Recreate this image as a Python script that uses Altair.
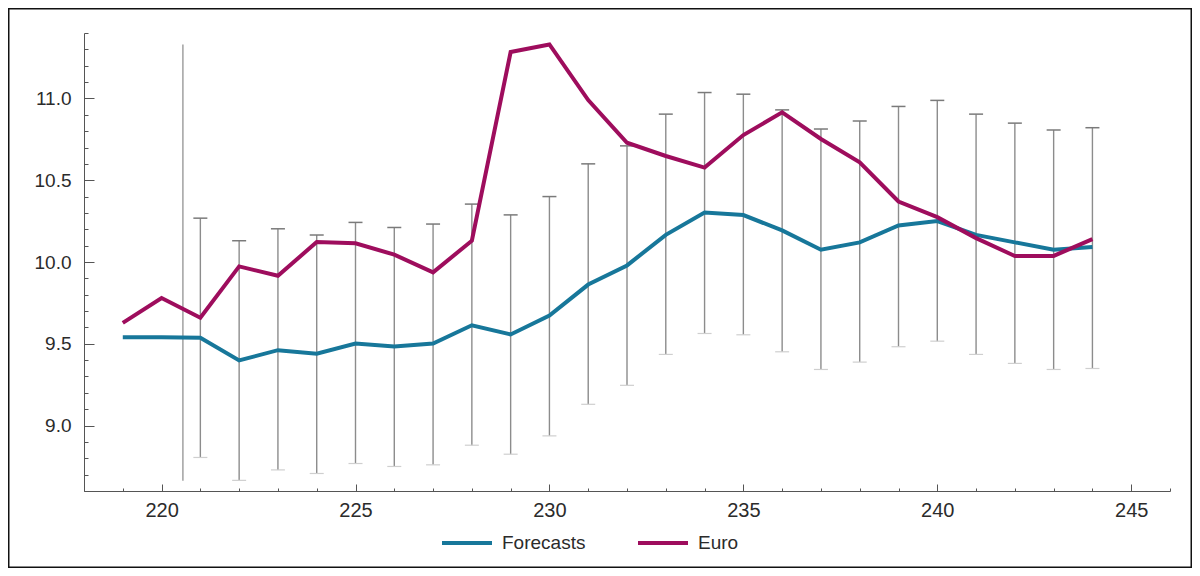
import altair as alt
import pandas as pd

# ---------------- data ----------------
periods = list(range(219, 245))
forecasts = [9.54, 9.54, 9.537, 9.398, 9.461, 9.439, 9.502, 9.484, 9.502, 9.613,
             9.557, 9.673, 9.862, 9.979, 10.166, 10.302, 10.287, 10.193, 10.075, 10.12,
             10.223, 10.25, 10.166, 10.12, 10.075, 10.091]
euro = [9.628, 9.78, 9.659, 9.973, 9.916, 10.122, 10.114, 10.045, 9.937, 10.13,
        11.284, 11.33, 10.99, 10.729, 10.648, 10.577, 10.776, 10.915, 10.752, 10.61,
        10.37, 10.274, 10.146, 10.037, 10.037, 10.14]

band_periods = list(range(221, 245))
band_high = [10.268, 10.13, 10.203, 10.165, 10.242, 10.211, 10.232, 10.354, 10.288, 10.4,
             10.6, 10.71, 10.904, 11.036, 11.026, 10.93, 10.813, 10.862, 10.951, 10.988,
             10.904, 10.849, 10.807, 10.821]
band_low = [8.805, 8.665, 8.729, 8.707, 8.768, 8.75, 8.76, 8.88, 8.825, 8.937,
            9.13, 9.246, 9.435, 9.563, 9.555, 9.451, 9.343, 9.388, 9.482, 9.516,
            9.435, 9.38, 9.343, 9.349]

outlier_period = [220.55]
outlier_high = [11.33]
outlier_low = [8.662]

series_names = ["Forecasts", "Euro"]
series_colors = ["#17779a", "#9e0d5d"]

x_labels = [220, 225, 230, 235, 240, 245]
x_minor = [218, 219, 220, 221, 222, 223, 224, 225, 226, 227, 228, 229, 230, 231, 232,
           233, 234, 235, 236, 237, 238, 239, 240, 241, 242, 243, 244, 245, 246]
y_labels = [9.0, 9.5, 10.0, 10.5, 11.0]
y_minor = [8.6, 8.7, 8.8, 8.9, 9.0, 9.1, 9.2, 9.3, 9.4, 9.5, 9.6, 9.7, 9.8, 9.9, 10.0,
           10.1, 10.2, 10.3, 10.4, 10.5, 10.6, 10.7, 10.8, 10.9, 11.0, 11.1, 11.2, 11.3, 11.4]

# ---------------- tables ----------------
line_df = pd.DataFrame({
    "period": periods * 2,
    "value": forecasts + euro,
    "series": ["Forecasts"] * len(periods) + ["Euro"] * len(periods),
})
band_df = pd.DataFrame({"period": band_periods, "high": band_high, "low": band_low})
out_df = pd.DataFrame({"period": outlier_period, "high": outlier_high, "low": outlier_low})
one_df = pd.DataFrame({"a": [0]})

W, H = 1086, 458
PAD = {"left": 76, "top": 25, "right": 22, "bottom": 77}
FONT = "Liberation Sans"
AX = "#555555"

xs = alt.Scale(domain=[218, 246], nice=False, zero=False)
ys = alt.Scale(domain=[8.6, 11.4], nice=False, zero=False)

# ---------------- axis layers (inward ticks) ----------------
main_axes = alt.Chart(line_df).mark_point(opacity=0).encode(
    x=alt.X("period:Q", scale=xs, axis=alt.Axis(
        orient="bottom", values=x_labels, format="d", ticks=False, tickSize=0, grid=False,
        title=None, domainColor=AX, domainWidth=1, labelFont=FONT, labelFontSize=20,
        labelColor="#2b2b2b", labelPadding=9)),
    y=alt.Y("value:Q", scale=ys, axis=alt.Axis(
        orient="left", values=y_labels, format=".1f", ticks=False, tickSize=0, grid=False,
        title=None, domainColor=AX, domainWidth=1, labelFont=FONT, labelFontSize=19,
        labelColor="#2b2b2b", labelPadding=13)),
)

major_ticks = alt.Chart(line_df).mark_point(opacity=0).encode(
    x=alt.X("period:Q", scale=xs, axis=alt.Axis(
        orient="bottom", offset=-7, values=x_labels, tickSize=7, tickColor=AX, tickWidth=1,
        domain=False, labels=False, grid=False, title=None)),
    y=alt.Y("value:Q", scale=ys, axis=alt.Axis(
        orient="left", offset=-10, values=y_labels, tickSize=10, tickColor=AX, tickWidth=1,
        domain=False, labels=False, grid=False, title=None)),
)

minor_ticks = alt.Chart(line_df).mark_point(opacity=0).encode(
    x=alt.X("period:Q", scale=xs, axis=alt.Axis(
        orient="bottom", offset=-3, values=x_minor, tickSize=3, tickColor=AX, tickWidth=1,
        domain=False, labels=False, grid=False, title=None)),
    y=alt.Y("value:Q", scale=ys, axis=alt.Axis(
        orient="left", offset=-4, values=y_minor, tickSize=4, tickColor=AX, tickWidth=1,
        domain=False, labels=False, grid=False, title=None)),
)

# ---------------- data layers ----------------
xe = alt.X("period:Q", scale=xs, axis=None)

outlier = alt.Chart(out_df).mark_rule(color="#9a9a9a", strokeWidth=1.4).encode(
    x=xe, y=alt.Y("high:Q", scale=ys, axis=None), y2="low:Q")

bars = alt.Chart(band_df).mark_rule(color="#8c8c8c", strokeWidth=1.4).encode(
    x=xe, y=alt.Y("high:Q", scale=ys, axis=None), y2="low:Q")

caps_top = alt.Chart(band_df).mark_tick(orient="horizontal", size=14, thickness=1.5,
                                        color="#7a7a7a", opacity=1).encode(
    x=xe, y=alt.Y("high:Q", scale=ys, axis=None))

caps_low = alt.Chart(band_df).mark_tick(orient="horizontal", size=14, thickness=1.2,
                                        color="#cfcfcf", opacity=1).encode(
    x=xe, y=alt.Y("low:Q", scale=ys, axis=None))

lines = alt.Chart(line_df).mark_line(strokeWidth=4).encode(
    x=xe,
    y=alt.Y("value:Q", scale=ys, axis=None),
    color=alt.Color("series:N",
                    scale=alt.Scale(domain=series_names, range=series_colors),
                    sort=series_names,
                    legend=alt.Legend(
                        orient="none", legendX=356, legendY=483, direction="horizontal",
                        title=None, symbolType="stroke", symbolSize=2500,
                        symbolStrokeWidth=4, labelFont=FONT, labelFontSize=19,
                        labelColor="#2b2b2b", labelOffset=8, columnPadding=44,
                        padding=0)),
)

frame = alt.Chart(one_df).mark_rect(fillOpacity=0, stroke="#111111", strokeWidth=1.5).encode(
    x=alt.value(-PAD["left"] + 0.75), x2=alt.value(W + PAD["right"] - 0.75),
    y=alt.value(-PAD["top"] + 0.75), y2=alt.value(H + PAD["bottom"] - 0.75))

chart = alt.layer(
    main_axes, major_ticks, minor_ticks, outlier, bars, caps_top, caps_low, lines, frame
).resolve_axis(x="independent", y="independent").properties(
    width=W, height=H, padding=PAD, autosize=alt.AutoSizeParams(type="none"),
    background="white",
).configure_view(strokeWidth=0)

chart.save("out.html", embed_options={"renderer": "svg", "actions": False})
